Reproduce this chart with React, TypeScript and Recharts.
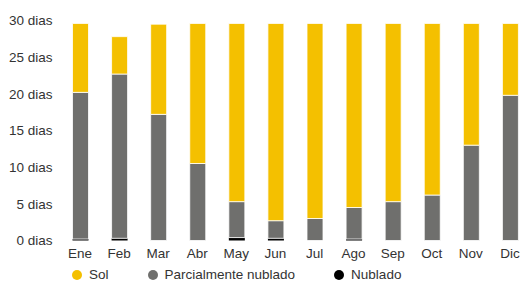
import { BarChart, Bar, XAxis, YAxis, Legend } from 'recharts';

const months = ['Ene', 'Feb', 'Mar', 'Abr', 'May', 'Jun', 'Jul', 'Ago', 'Sep', 'Oct', 'Nov', 'Dic'];
const nublado = [0.2, 0.3, 0, 0, 0.4, 0.3, 0, 0.2, 0, 0, 0, 0];
const parcial = [20.0, 22.4, 17.2, 10.5, 4.9, 2.4, 3.0, 4.3, 5.3, 6.2, 13.0, 19.8];
const sol = [9.4, 5.1, 12.3, 19.1, 24.3, 26.9, 26.6, 25.1, 24.3, 23.4, 16.6, 9.8];
const yTicks = [0, 5, 10, 15, 20, 25, 30];

const legendItems = [
  { label: 'Sol', color: '#F4C000' },
  { label: 'Parcialmente nublado', color: '#6F6F6D' },
  { label: 'Nublado', color: '#000000' },
];

const data = months.map((m, i) => ({
  month: m,
  nublado: nublado[i],
  parcial: parcial[i],
  sol: sol[i],
}));

const FONT = 'Liberation Sans, Arial, sans-serif';

function CustomLegend() {
  return (
    <div
      style={{
        display: 'flex',
        alignItems: 'center',
        height: 18,
        lineHeight: '18px',
        fontFamily: FONT,
        fontSize: 13.5,
        color: '#333',
        whiteSpace: 'nowrap',
      }}
    >
      {legendItems.map((it) => (
        <div key={it.label} style={{ display: 'flex', alignItems: 'center', marginRight: 39 }}>
          <span
            style={{
              display: 'inline-block',
              width: 10,
              height: 10,
              borderRadius: 5,
              background: it.color,
              marginRight: 7,
            }}
          />
          <span>{it.label}</span>
        </div>
      ))}
    </div>
  );
}

export default function App() {
  return (
    <div style={{ position: 'absolute', left: 0, top: 0, width: 520, height: 281, overflow: 'hidden', background: '#fff' }}>
      <BarChart
        width={540}
        height={281}
        data={data}
        margin={{ top: 20.5, right: 10.5, left: 0, bottom: 10.5 }}
      >
        <XAxis
          dataKey="month"
          axisLine={false}
          tickLine={false}
          height={30}
          interval={0}
          tick={{ fontSize: 13.5, fontFamily: FONT, fill: '#333' }}
        />
        <YAxis
          width={60.5}
          domain={[0, 30]}
          ticks={yTicks}
          axisLine={false}
          tickLine={false}
          tickFormatter={(v: number) => `${v} dias`}
          tick={{ fontSize: 13.5, fontFamily: FONT, fill: '#333' }}
        />
        <Legend
          layout="horizontal"
          verticalAlign="middle"
          align="center"
          content={() => <CustomLegend />}
          wrapperStyle={{ top: 266, left: 72, width: 440, height: 18 }}
        />
        <Bar dataKey="nublado" stackId="a" fill="#000000" barSize={16} isAnimationActive={false} />
        <Bar dataKey="parcial" stackId="a" fill="#6F6F6D" stroke="#fff" strokeWidth={0.8} barSize={16} isAnimationActive={false} />
        <Bar dataKey="sol" stackId="a" fill="#F4C000" stroke="#fff" strokeWidth={0.8} barSize={16} isAnimationActive={false} />
      </BarChart>
    </div>
  );
}
